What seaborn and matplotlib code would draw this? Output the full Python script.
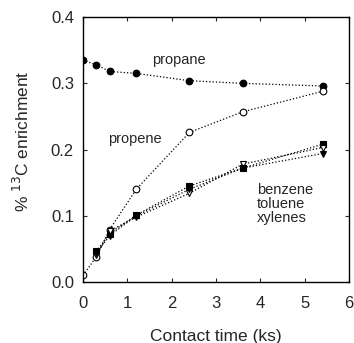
import matplotlib
matplotlib.use("Agg")
import matplotlib.pyplot as plt
import seaborn as sns
import pandas as pd

time_ks = [0.0, 0.3, 0.6, 1.2, 2.4, 3.6, 5.4]
time_arom = [0.3, 0.6, 1.2, 2.4, 3.6, 5.4]
propane = [0.335, 0.328, 0.318, 0.315, 0.304, 0.300, 0.296]
propene = [0.010, 0.038, 0.079, 0.140, 0.226, 0.257, 0.288]
benzene = [0.046, 0.073, 0.101, 0.145, 0.172, 0.208]
toluene = [0.040, 0.077, 0.098, 0.134, 0.178, 0.203]
xylenes = [0.043, 0.070, 0.100, 0.140, 0.172, 0.194]

x_ticks = [0, 1, 2, 3, 4, 5, 6]
y_ticks = [0.0, 0.1, 0.2, 0.3, 0.4]

sns.set_style("ticks")
plt.rcParams['font.family'] = ['Liberation Sans', 'DejaVu Sans']

fig = plt.figure(figsize=(3.54, 3.43), dpi=100)
ax = fig.add_axes([0.2345, 0.178, 0.752, 0.772])

series = [
    (time_ks, propane, 'o', 'black'),
    (time_ks, propene, 'o', 'white'),
    (time_arom, benzene, 's', 'black'),
    (time_arom, toluene, 'v', 'white'),
    (time_arom, xylenes, 'v', 'black'),
]
for xs, ys, m, fc in series:
    df = pd.DataFrame({"x": xs, "y": ys})
    sns.lineplot(data=df, x="x", y="y", ax=ax, color='black', linestyle=':',
                 linewidth=0.9, marker=m, markersize=4.8, markerfacecolor=fc,
                 markeredgecolor='black', markeredgewidth=0.8)

ax.set_xlim(0, 6)
ax.set_ylim(0, 0.4)
ax.set_xticks(x_ticks)
ax.set_yticks(y_ticks)
ax.set_xticklabels([str(t) for t in x_ticks])
ax.set_yticklabels([f"{t:.1f}" for t in y_ticks])
ax.tick_params(direction='in', top=True, right=True, labeltop=False, labelright=False,
               length=3, width=0.8, labelsize=12)
ax.tick_params(axis='x', pad=10)
ax.tick_params(axis='y', pad=6.5)
for s in ax.spines.values():
    s.set_linewidth(1.0)
    s.set_color('black')

ax.set_xlabel("Contact time (ks)", fontsize=12.5, labelpad=13)
ax.set_ylabel("% $^{13}$C enrichment", fontsize=12.5, labelpad=12)
ax.yaxis.set_label_coords(-0.19, 0.53)

ax.text(1.55, 0.335, "propane", fontsize=10.5, ha='left', va='center')
ax.text(0.56, 0.216, "propene", fontsize=10.5, ha='left', va='center')
ax.text(3.92, 0.118, "benzene\ntoluene\nxylenes", fontsize=10.5, ha='left', va='center',
        linespacing=1.0)

fig.savefig("out.png", dpi=100)
